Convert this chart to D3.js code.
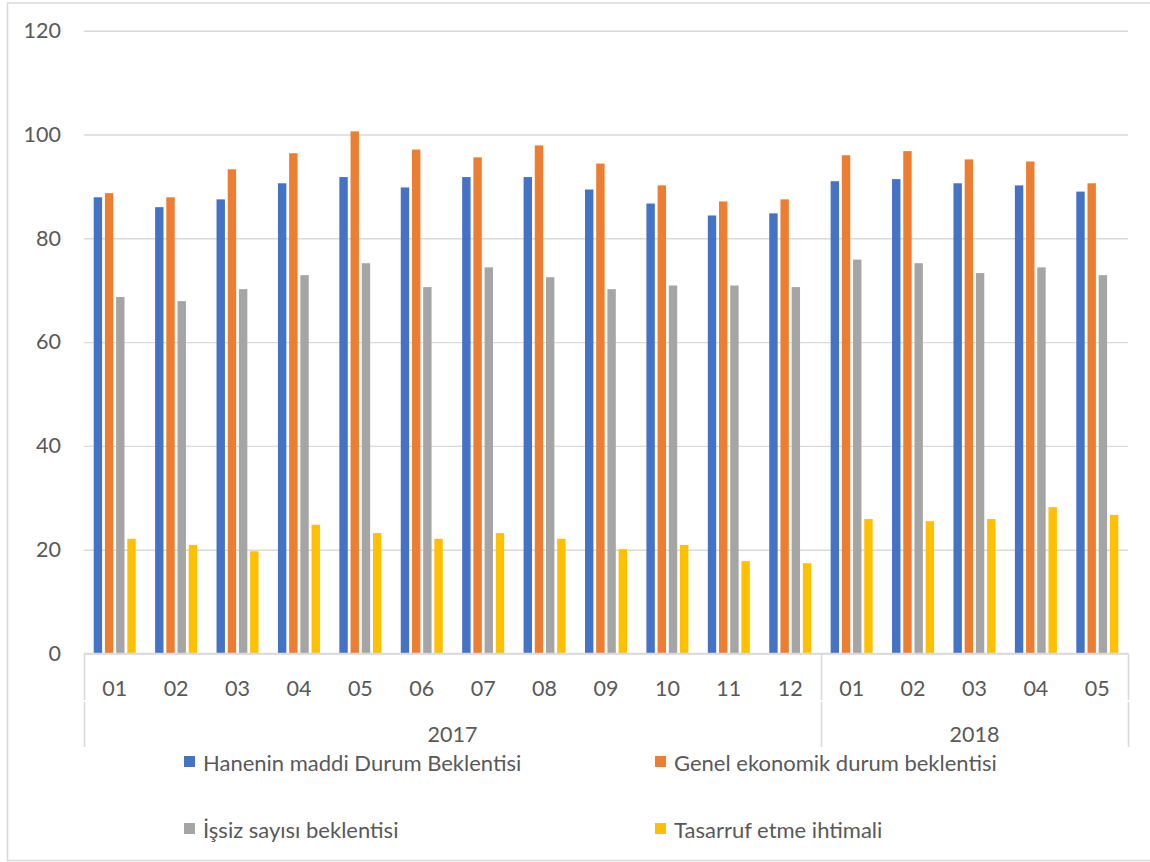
<!DOCTYPE html>
<html>
<head>
<meta charset="utf-8">
<script src="https://cdn.jsdelivr.net/npm/d3@7"></script>
<style>
  html, body { margin: 0; padding: 0; background: #fff; }
  svg { display: block; font-family: Lato, "Open Sans", sans-serif; }
</style>
</head>
<body>
<svg id="chart" width="1150" height="862"></svg>
<script>
// ---- Data ----
const months = ["01","02","03","04","05","06","07","08","09","10","11","12","01","02","03","04","05"];
const years = ["2017", "2018"];
const yearCounts = [12, 5];
const seriesNames = ["Hanenin maddi Durum Beklentisi", "Genel ekonomik durum beklentisi", "İşsiz sayısı beklentisi", "Tasarruf etme ihtimali"];
const hanenin  = [87.9, 86.0, 87.5, 90.6, 91.8, 89.8, 91.8, 91.8, 89.4, 86.7, 84.4, 84.8, 91.0, 91.4, 90.6, 90.2, 89.0];
const genel    = [88.7, 87.9, 93.3, 96.4, 100.6, 97.1, 95.6, 97.9, 94.4, 90.2, 87.1, 87.5, 96.0, 96.8, 95.2, 94.8, 90.6];
const issiz    = [68.7, 67.9, 70.2, 72.9, 75.2, 70.6, 74.4, 72.5, 70.2, 70.9, 70.9, 70.6, 75.9, 75.2, 73.3, 74.4, 72.9];
const tasarruf = [22.1, 20.9, 19.7, 24.8, 23.2, 22.1, 23.2, 22.1, 20.1, 20.9, 17.8, 17.4, 25.9, 25.5, 25.9, 28.2, 26.7];
const yTicks = [0, 20, 40, 60, 80, 100, 120];

const seriesValues = [hanenin, genel, issiz, tasarruf];
const colors = ["#4472C4", "#ED7D31", "#A5A5A5", "#FFC000"];

// ---- Layout ----
const svg = d3.select("#chart");
const plotLeft = 84, plotRight = 1128, plotTop = 30.7, plotBottom = 653.5;
const gridColor = "#d9d9d9", textColor = "#595959";
const axisFont = "21.5px", legendFont = "22px";

// outer border
svg.append("rect").attr("x", 7.5).attr("y", 3).attr("width", 1160).attr("height", 857.5)
  .attr("fill", "none").attr("stroke", gridColor).attr("stroke-width", 1.5);

const idx = d3.range(months.length);
const x = d3.scaleBand().domain(idx).range([plotLeft, plotRight]).paddingInner(0.316).paddingOuter(0.158);
const xs = d3.scaleBand().domain(d3.range(seriesNames.length)).range([0, x.bandwidth()]).paddingInner(0.25);
const y = d3.scaleLinear().domain([0, 120]).range([plotBottom, plotTop]);

// gridlines + y axis labels
const yAxis = d3.axisLeft(y).tickValues(yTicks).tickSize(-(plotRight - plotLeft)).tickPadding(23);
const gy = svg.append("g").attr("transform", `translate(${plotLeft},0)`).call(yAxis);
gy.select(".domain").remove();
gy.selectAll(".tick line").attr("stroke", gridColor).attr("stroke-width", 1.4);
gy.selectAll(".tick text").attr("fill", textColor).style("font-size", axisFont).style("font-family", "Lato, sans-serif");

// bars
seriesValues.forEach((vals, s) => {
  svg.append("g").selectAll("rect").data(vals).join("rect")
    .attr("x", (d, i) => x(i) + xs(s))
    .attr("y", d => y(d))
    .attr("width", xs.bandwidth())
    .attr("height", d => y(0) - y(d))
    .attr("fill", colors[s]);
});

// category axis baseline
svg.append("line").attr("x1", plotLeft).attr("x2", plotRight).attr("y1", plotBottom).attr("y2", plotBottom)
  .attr("stroke", gridColor).attr("stroke-width", 1.6);

// month labels
svg.append("g").selectAll("text").data(months).join("text")
  .attr("x", (d, i) => x(i) + x.bandwidth() / 2)
  .attr("y", 695.5)
  .attr("text-anchor", "middle")
  .attr("fill", textColor).style("font-size", axisFont)
  .text(d => d);

// year group separators and labels
let acc = 0;
const sepIdx = [0];
yearCounts.forEach(c => { acc += c; sepIdx.push(acc); });
const sepX = i => plotLeft + i * x.step();
sepIdx.forEach(i => {
  const xx = Math.round(sepX(i)) + 0.5;
  svg.append("line").attr("x1", xx).attr("x2", xx).attr("y1", plotBottom).attr("y2", 700)
    .attr("stroke", gridColor).attr("stroke-width", 1.6);
  svg.append("line").attr("x1", xx).attr("x2", xx).attr("y1", 702).attr("y2", 747)
    .attr("stroke", gridColor).attr("stroke-width", 1.6);
});
years.forEach((yr, k) => {
  const cx = (sepX(sepIdx[k]) + sepX(sepIdx[k + 1])) / 2;
  svg.append("text").attr("x", cx).attr("y", 741.5).attr("text-anchor", "middle")
    .attr("fill", textColor).style("font-size", axisFont).text(yr);
});

// legend
const legendPos = [[184, 771], [655, 771], [184, 838], [655, 838]];
const legend = svg.append("g").selectAll("g").data(seriesNames).join("g")
  .attr("transform", (d, i) => `translate(${legendPos[i][0]},${legendPos[i][1]})`);
legend.append("rect").attr("x", 0).attr("y", -15).attr("width", 11).attr("height", 11)
  .attr("fill", (d, i) => colors[i]);
legend.append("text").attr("x", 19).attr("y", 0)
  .attr("fill", textColor).style("font-size", legendFont).text(d => d);
</script>
</body>
</html>
